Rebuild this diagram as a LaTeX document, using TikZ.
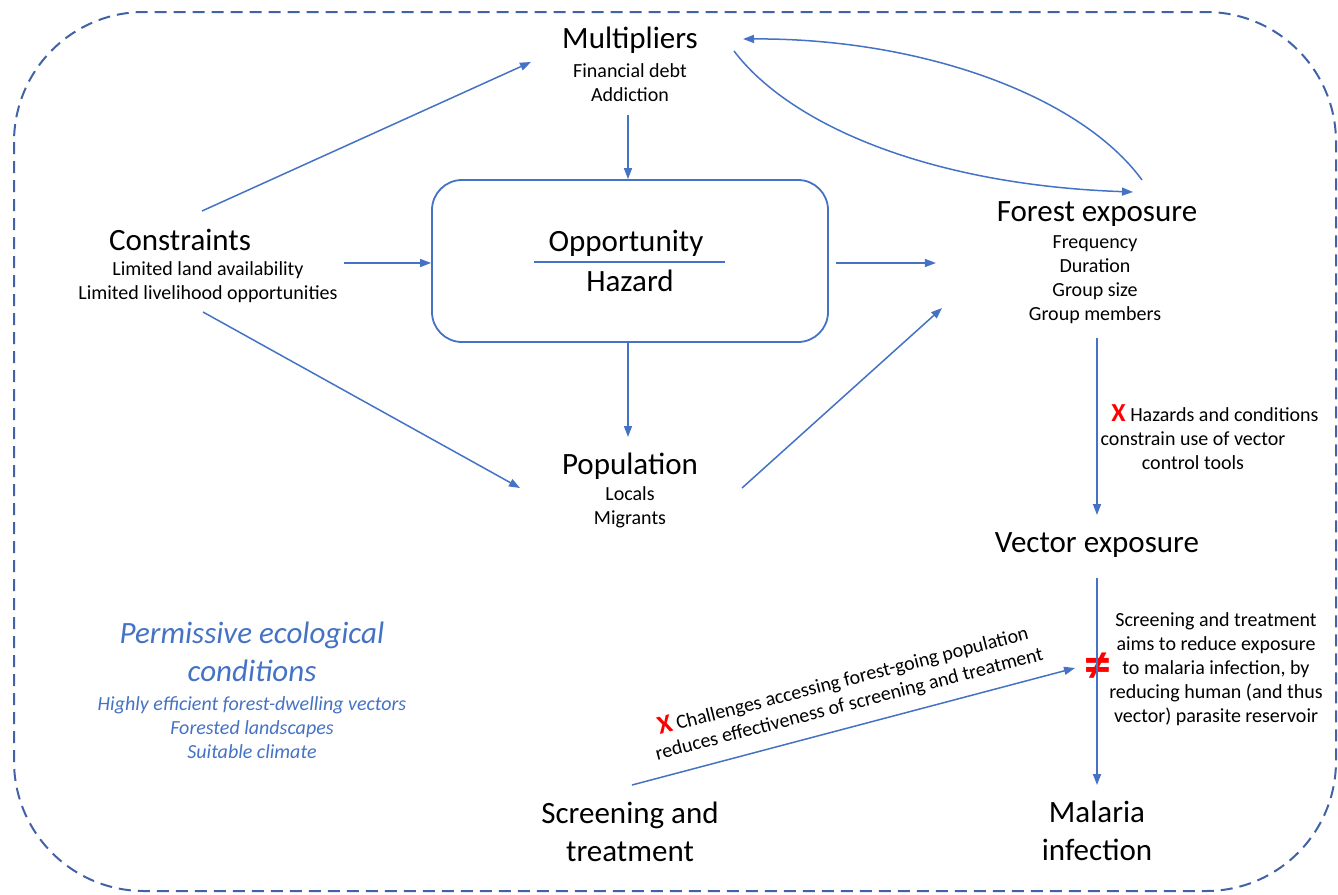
\documentclass[tikz,border=0pt]{standalone}
\usepackage{fontspec}
\setmainfont{Carlito}
\usepackage{xcolor}
\usepackage{tikz}
\usetikzlibrary{arrows.meta, positioning, calc}

\definecolor{lineblue}{RGB}{68,114,196}
\definecolor{frameblue}{RGB}{66,98,166}
\newcommand{\titlesize}{\fontsize{31}{38}\selectfont}
\newcommand{\subsize}{\fontsize{20}{24}\selectfont}
\newcommand{\redx}{{\fontsize{26}{24}\selectfont\textcolor{red}{\textbf{X}}}}

\begin{document}
\begin{tikzpicture}[
  x=1pt, y=-1pt,
  title/.style={font=\titlesize, inner sep=1pt, align=center},
  sub/.style={font=\subsize, inner sep=1pt, align=center},
  ecotitle/.style={title, text=lineblue, font=\titlesize\itshape},
  ecosub/.style={sub, text=lineblue, font=\subsize\itshape},
  box/.style={draw=lineblue, line width=1.8pt, rounded corners=30pt,
    minimum width=396pt, minimum height=162pt},
  arrow/.style={-{Triangle[length=11pt,width=8pt]}, line width=1.5pt, draw=lineblue}
]
\useasboundingbox (0,0) rectangle (1338,894);

% Frame
\draw[frameblue, line width=2pt, dash pattern=on 12pt off 7pt, rounded corners=130pt]
  (14,12) rectangle (1336,891);

% Nodes
\node[title] (multi) at (630,40) {Multipliers};
\node[sub] (multisub) at (630,83) {Financial debt\\Addiction};
\node[title] (constr) at (180,240) {Constraints};
\node[sub] (constrsub) at (208,282) {Limited land availability\\Limited livelihood opportunities};
\node[box] (box) at (630,261) {};
\node[title] (opp) at (626,243) {Opportunity};
\node[title] (haz) at (630,281) {Hazard};
\node[title] (forest) at (1097,214) {Forest exposure};
\node[sub] (forestsub) at (1095,280) {Frequency\\Duration\\Group size\\Group members};
\node[title] (pop) at (630,466) {Population};
\node[sub] (popsub) at (630,507) {Locals\\Migrants};
\node[title] (vector) at (1097,545) {Vector exposure};
\node[title] (malaria) at (1097,831) {Malaria\\infection};
\node[title] (screen) at (630,832) {Screening and\\treatment};
\node[ecotitle] (perm) at (252,652) {Permissive ecological\\conditions};
\node[ecosub] (permsub) at (252,728) {Highly efficient forest-dwelling vectors\\Forested landscapes\\Suitable climate};
\node[sub] (hazlabel) at (1193,437) {\hspace*{44pt}\redx{} Hazards and conditions\\constrain use of vector\\control tools};
\node[font=\fontsize{54}{54}\selectfont\bfseries, text=red, inner sep=1pt] (neq) at (1098,668) {≠};
\node[sub] (stlabel) at (1216,669) {Screening and treatment\\aims to reduce exposure\\to malaria infection, by\\reducing human (and thus\\vector) parasite reservoir};
\node[sub, rotate=14.5] (chlabel) at (846,692) {\redx{} Challenges accessing forest-going population\\reduces effectiveness of screening and treatment};

% Divider
\draw[lineblue, line width=1.5pt] ($(box)+(-96,1)$) -- ($(box)+(95,1)$);

% Pointers
\draw[arrow] ($(constr)+(22,-29)$) -- ($(multi)+(-99,22)$);
\draw[arrow] ($(box.west)+(-87,2)$) -- ($(box.west)+(0,2)$);
\draw[arrow] ($(constr)+(23,72)$) -- ($(pop)+(-110,22)$);
\draw[arrow] ($(multi)+(-2,75)$) -- ($(box.north)+(-2,0)$);
\draw[arrow] ($(box.south)+(-2,0)$) -- ($(pop)+(-2,-29)$);
\draw[arrow] ($(box.east)+(7,2)$) -- ($(box.east)+(107,2)$);
\draw[arrow] ($(pop)+(112,22)$) -- ($(forest)+(-155,94)$);
\draw[arrow] ($(multi)+(104,11)$) .. controls (790,125) and (930,185) .. ($(forest)+(36,-22)$);
\draw[arrow] ($(forest)+(45,-34)$) .. controls (1080,95) and (920,38) .. ($(multi)+(113,-1)$);
\draw[arrow] ($(forest)+(0,124)$) -- ($(vector)+(0,-30)$);
\draw[arrow] ($(vector)+(0,33)$) -- ($(malaria)+(0,-46)$);
\draw[arrow] ($(screen)+(2,-47)$) -- ($(neq)+(-23,0)$);
\end{tikzpicture}
\end{document}
